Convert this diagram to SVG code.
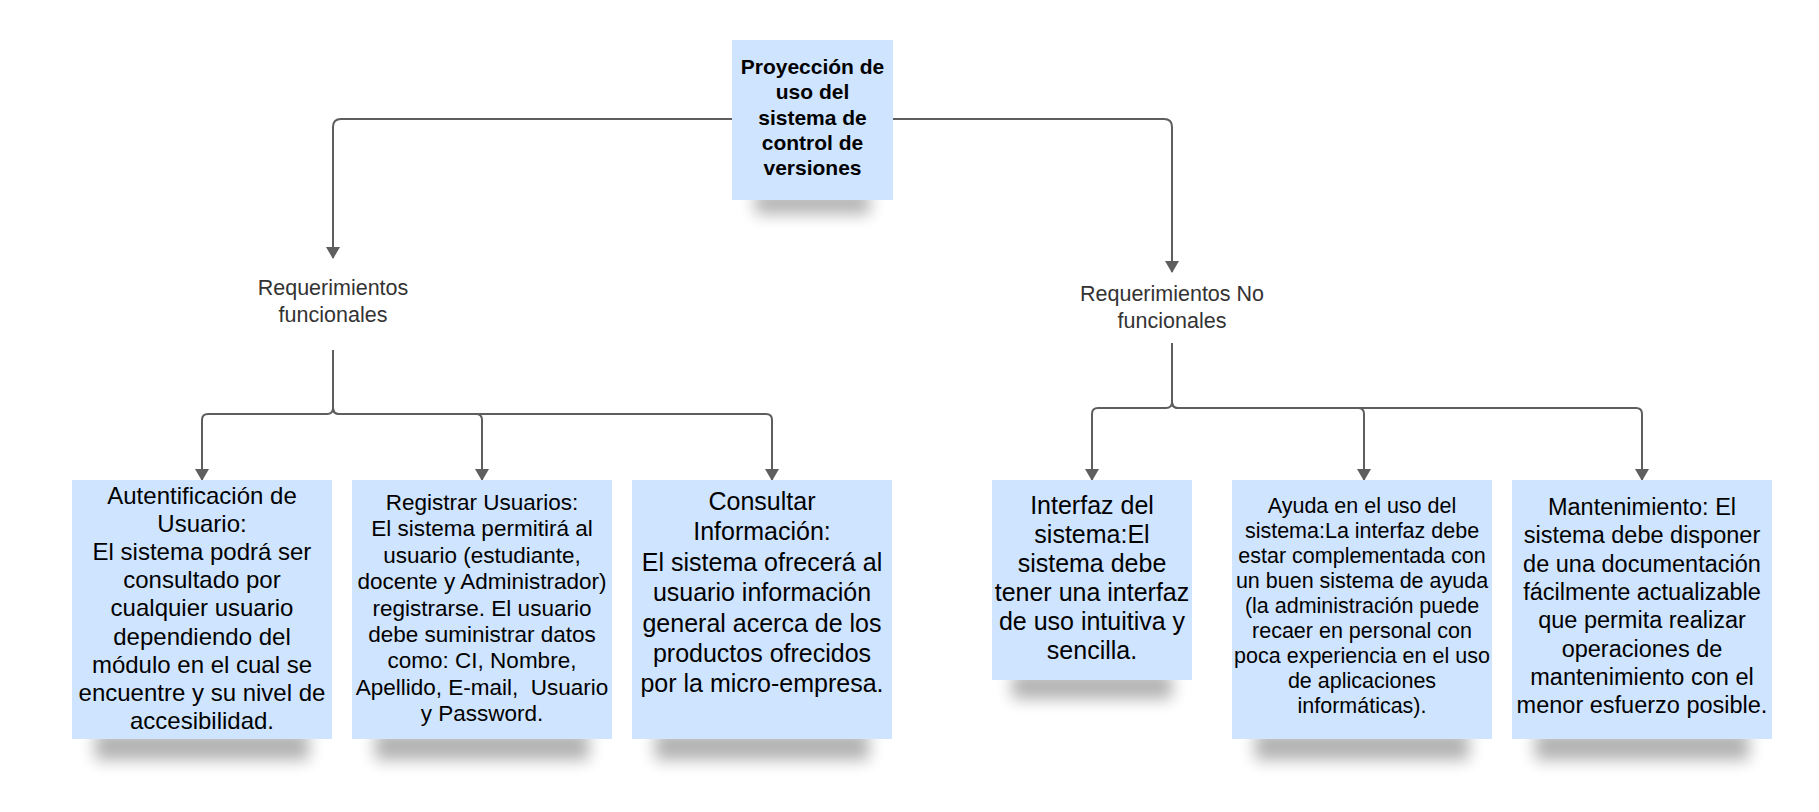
<svg xmlns="http://www.w3.org/2000/svg" width="1819" height="812" viewBox="0 0 1819 812">
<style>
  .box { fill: #cfe4ff; }
  .shadow { fill: #000; opacity: 0.3; filter: url(#blur); }
  .t { font-family: "Liberation Sans", Arial, sans-serif; fill: #000; text-anchor: middle; white-space: pre; }
  .lbl { font-family: "Liberation Sans", Arial, sans-serif; fill: #333; text-anchor: middle; font-size: 21.5px; }
  .b { font-weight: bold; font-size: 21px; }
  .c { fill: none; stroke: #5e5e5e; stroke-width: 2; }
</style>
<defs>
  <filter id="blur" x="-30%" y="-150%" width="160%" height="400%">
    <feGaussianBlur stdDeviation="8"/>
  </filter>
  <marker id="arr" viewBox="0 0 12 14" refX="11" refY="7" markerWidth="12" markerHeight="14" markerUnits="userSpaceOnUse" orient="auto">
    <path d="M0,0 L12,7 L0,14 Z" fill="#5e5e5e"/>
  </marker>
</defs>
<rect width="1819" height="812" fill="#fff"/>

<g id="connectors">
  <path class="c" d="M732,119 H341 Q333,119 333,127 V258" marker-end="url(#arr)"/>
  <path class="c" d="M893,119 H1164 Q1172,119 1172,127 V272" marker-end="url(#arr)"/>
  <path class="c" d="M333,350 V408 Q333,414 327,414 H208 Q202,414 202,420 V480" marker-end="url(#arr)"/>
  <path class="c" d="M333,350 V408 Q333,414 339,414 H476 Q482,414 482,420 V480" marker-end="url(#arr)"/>
  <path class="c" d="M333,350 V408 Q333,414 339,414 H766 Q772,414 772,420 V480" marker-end="url(#arr)"/>
  <path class="c" d="M1172,343 V402 Q1172,408 1166,408 H1098 Q1092,408 1092,414 V480" marker-end="url(#arr)"/>
  <path class="c" d="M1172,343 V402 Q1172,408 1178,408 H1358 Q1364,408 1364,414 V480" marker-end="url(#arr)"/>
  <path class="c" d="M1172,343 V402 Q1172,408 1178,408 H1636 Q1642,408 1642,414 V480" marker-end="url(#arr)"/>
</g>

<g id="root">
  <rect class="shadow" x="755" y="192" width="115" height="22"/>
  <rect class="box" x="732" y="40" width="161" height="160"/>
  <text class="t b" x="812.5" y="74">Proyección de</text>
  <text class="t b" x="812.5" y="99.3">uso del</text>
  <text class="t b" x="812.5" y="124.6">sistema de</text>
  <text class="t b" x="812.5" y="149.9">control de</text>
  <text class="t b" x="812.5" y="175.2">versiones</text>
</g>

<g id="req-func">
  <text class="lbl" x="333" y="295">Requerimientos</text>
  <text class="lbl" x="333" y="322">funcionales</text>
</g>

<g id="req-nofunc">
  <text class="lbl" x="1172" y="301">Requerimientos No</text>
  <text class="lbl" x="1172" y="328">funcionales</text>
</g>

<g id="autentificacion">
  <rect class="shadow" x="95" y="732" width="214" height="28"/>
  <rect class="box" x="72" y="480" width="260" height="259"/>
  <text class="t" font-size="24" x="202" y="504">Autentificación de</text>
  <text class="t" font-size="24" x="202" y="532.1">Usuario:</text>
  <text class="t" font-size="24" x="202" y="560.2">El sistema podrá ser</text>
  <text class="t" font-size="24" x="202" y="588.3">consultado por</text>
  <text class="t" font-size="24" x="202" y="616.4">cualquier usuario</text>
  <text class="t" font-size="24" x="202" y="644.5">dependiendo del</text>
  <text class="t" font-size="24" x="202" y="672.6">módulo en el cual se</text>
  <text class="t" font-size="24" x="202" y="700.7">encuentre y su nivel de</text>
  <text class="t" font-size="24" x="202" y="728.8">accesibilidad.</text>
</g>

<g id="registrar">
  <rect class="shadow" x="375" y="732" width="214" height="28"/>
  <rect class="box" x="352" y="480" width="260" height="259"/>
  <text class="t" font-size="22.5" x="482" y="510">Registrar Usuarios:</text>
  <text class="t" font-size="22.5" x="482" y="536.4">El sistema permitirá al</text>
  <text class="t" font-size="22.5" x="482" y="562.8">usuario (estudiante,</text>
  <text class="t" font-size="22.5" x="482" y="589.2">docente y Administrador)</text>
  <text class="t" font-size="22.5" x="482" y="615.6">registrarse. El usuario</text>
  <text class="t" font-size="22.5" x="482" y="642">debe suministrar datos</text>
  <text class="t" font-size="22.5" x="482" y="668.4">como: CI, Nombre,</text>
  <text class="t" font-size="22.5" x="482" y="694.8">Apellido, E-mail,  Usuario</text>
  <text class="t" font-size="22.5" x="482" y="721.2">y Password.</text>
</g>

<g id="consultar">
  <rect class="shadow" x="655" y="732" width="214" height="28"/>
  <rect class="box" x="632" y="480" width="260" height="259"/>
  <text class="t" font-size="25" x="762" y="510">Consultar</text>
  <text class="t" font-size="25" x="762" y="540.4">Información:</text>
  <text class="t" font-size="25" x="762" y="570.8">El sistema ofrecerá al</text>
  <text class="t" font-size="25" x="762" y="601.2">usuario información</text>
  <text class="t" font-size="25" x="762" y="631.6">general acerca de los</text>
  <text class="t" font-size="25" x="762" y="662">productos ofrecidos</text>
  <text class="t" font-size="25" x="762" y="692.4">por la micro-empresa.</text>
</g>

<g id="interfaz">
  <rect class="shadow" x="1012" y="673" width="160" height="26"/>
  <rect class="box" x="992" y="480" width="200" height="200"/>
  <text class="t" font-size="25" x="1092" y="514">Interfaz del</text>
  <text class="t" font-size="25" x="1092" y="543">sistema:El</text>
  <text class="t" font-size="25" x="1092" y="572">sistema debe</text>
  <text class="t" font-size="25" x="1092" y="601">tener una interfaz</text>
  <text class="t" font-size="25" x="1092" y="630">de uso intuitiva y</text>
  <text class="t" font-size="25" x="1092" y="659">sencilla.</text>
</g>

<g id="ayuda">
  <rect class="shadow" x="1255" y="732" width="214" height="28"/>
  <rect class="box" x="1232" y="480" width="260" height="259"/>
  <text class="t" font-size="21.5" x="1362" y="513">Ayuda en el uso del</text>
  <text class="t" font-size="21.5" x="1362" y="538">sistema:La interfaz debe</text>
  <text class="t" font-size="21.5" x="1362" y="563">estar complementada con</text>
  <text class="t" font-size="21.5" x="1362" y="588">un buen sistema de ayuda</text>
  <text class="t" font-size="21.5" x="1362" y="613">(la administración puede</text>
  <text class="t" font-size="21.5" x="1362" y="638">recaer en personal con</text>
  <text class="t" font-size="21.5" x="1362" y="663">poca experiencia en el uso</text>
  <text class="t" font-size="21.5" x="1362" y="688">de aplicaciones</text>
  <text class="t" font-size="21.5" x="1362" y="713">informáticas).</text>
</g>

<g id="mantenimiento">
  <rect class="shadow" x="1535" y="732" width="214" height="28"/>
  <rect class="box" x="1512" y="480" width="260" height="259"/>
  <text class="t" font-size="23.5" x="1642" y="515">Mantenimiento: El</text>
  <text class="t" font-size="23.5" x="1642" y="543.3">sistema debe disponer</text>
  <text class="t" font-size="23.5" x="1642" y="571.6">de una documentación</text>
  <text class="t" font-size="23.5" x="1642" y="599.9">fácilmente actualizable</text>
  <text class="t" font-size="23.5" x="1642" y="628.2">que permita realizar</text>
  <text class="t" font-size="23.5" x="1642" y="656.5">operaciones de</text>
  <text class="t" font-size="23.5" x="1642" y="684.8">mantenimiento con el</text>
  <text class="t" font-size="23.5" x="1642" y="713.1">menor esfuerzo posible.</text>
</g>
</svg>
